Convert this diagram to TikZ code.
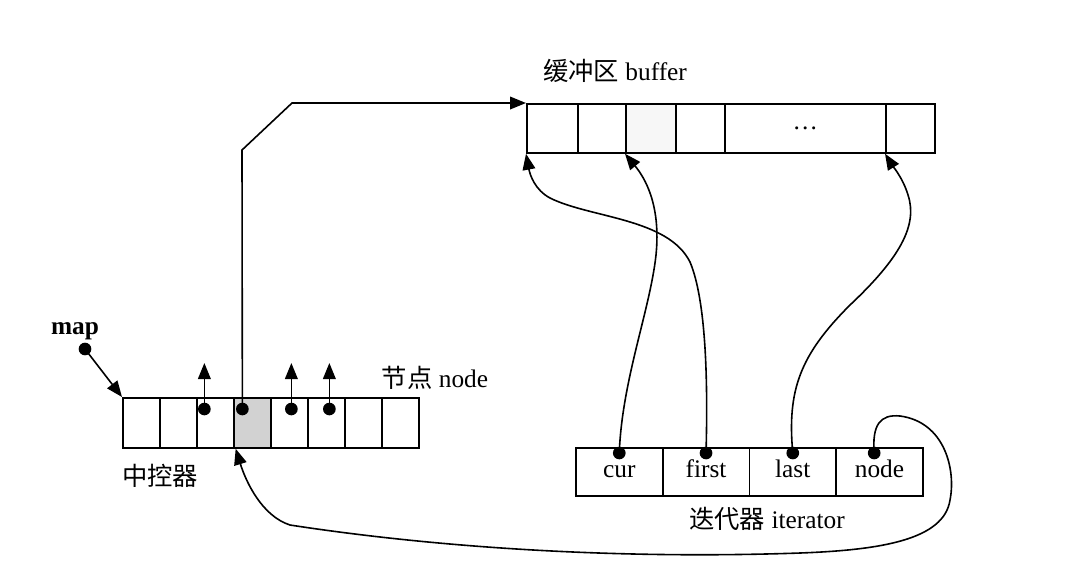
\documentclass[tikz,border=0pt]{standalone}
\usepackage{fontspec}
\setmainfont{Liberation Serif}
\newfontfamily\cjk{Noto Sans CJK SC}
\usetikzlibrary{arrows.meta}

\begin{document}
\begin{tikzpicture}[x=0.75pt,y=-0.75pt,
  font=\fontsize{19}{22}\selectfont,
  cell/.style={draw,line width=1.3pt,inner sep=0pt,anchor=north west},
  dot/.style={circle,fill,inner sep=0pt,minimum size=9.5pt},
  ptr/.style={line width=1.2pt,-{Triangle[length=12pt,width=9.5pt]}}]
\useasboundingbox (0,0) rectangle (1087,587);

\foreach \i/\c in {1/white,2/white,3/white,4/gray!35,5/white,6/white,7/white,8/white}
  \node[cell,fill=\c,minimum width=27.75pt,minimum height=37.5pt] (m\i) at ({122+37*(\i-1)},397) {};

\foreach \i/\xa/\w/\c in {1/526/51/white,2/577/48/white,3/625/50/gray!6,4/675/49/white,5/724/161/white,6/885/49/white}
  \node[cell,fill=\c,minimum width=\w*0.75pt,minimum height=36.75pt] (b\i) at (\xa,103) {};
\node (dots) at (b5.center) {\dots};

\foreach \i/\t in {1/cur,2/first,3/last,4/node}
  \node[cell,minimum width=65.1pt,minimum height=36pt,text height=0.85em,text depth=0pt] (it\i) at ({575+86.75*(\i-1)},447) {\t};

\node[font=\fontsize{19}{22}\selectfont\bfseries] (map) at (75,331) {map};
\node[dot] (mapdot) at (85,349) {};
\node (nodelabel) at (435,378) {{\cjk 节点} node};
\node (ctrllabel) at (160,476) {\cjk 中控器};
\node (buflabel) at (615,71) {{\cjk 缓冲区} buffer};
\node (itlabel) at (767,519) {{\cjk 迭代器} iterator};

\foreach \i/\dx in {3/-11,4/-10,5/2,6/3}
  \node[dot] (d\i) at ([xshift=\dx*0.75pt]m\i.center |- 0,409) {};
\foreach \i in {3,5,6}
  \draw[ptr] (d\i.center) -- ++(0,-46);

\node[dot] (pcur) at ([yshift=-4.5pt]it1.north) {};
\node[dot] (pfirst) at ([yshift=-4.5pt]it2.north) {};
\node[dot] (plast) at ([yshift=-4.5pt]it3.north) {};
\node[dot] (pnode) at ([xshift=-4pt,yshift=-4.5pt]it4.north) {};

\draw[ptr] (mapdot.center) -- (m1.north west);
\draw[ptr] (d4.center) -- (242,150) -- (292,103) -- (b1.north west);

\draw[ptr] (pcur.center) .. controls (622,380) and (650,310) .. (656,255)
  .. controls (661,205) and (645,178) .. (b3.south west);
\draw[ptr] (pfirst.center) .. controls (708,380) and (706,300) .. (690,262)
  .. controls (668,218) and (590,218) .. (550,198)
  .. controls (535,190) and (530,175) .. (b1.south west);
\draw[ptr] (plast.center) .. controls (787,390) and (800,355) .. (850,305)
  .. controls (900,258) and (918,225) .. (908,195)
  .. controls (903,178) and (892,165) .. (b6.south west);
\draw[ptr] (pnode.center) .. controls (872,425) and (880,414) .. (900,416)
  .. controls (945,422) and (956,470) .. (950,500)
  .. controls (944,540) and (880,550) .. (800,553)
  .. controls (600,560) and (420,545) .. (290,525)
  .. controls (262,516) and (246,482) .. ([xshift=2pt]m4.south west);
\end{tikzpicture}
\end{document}
